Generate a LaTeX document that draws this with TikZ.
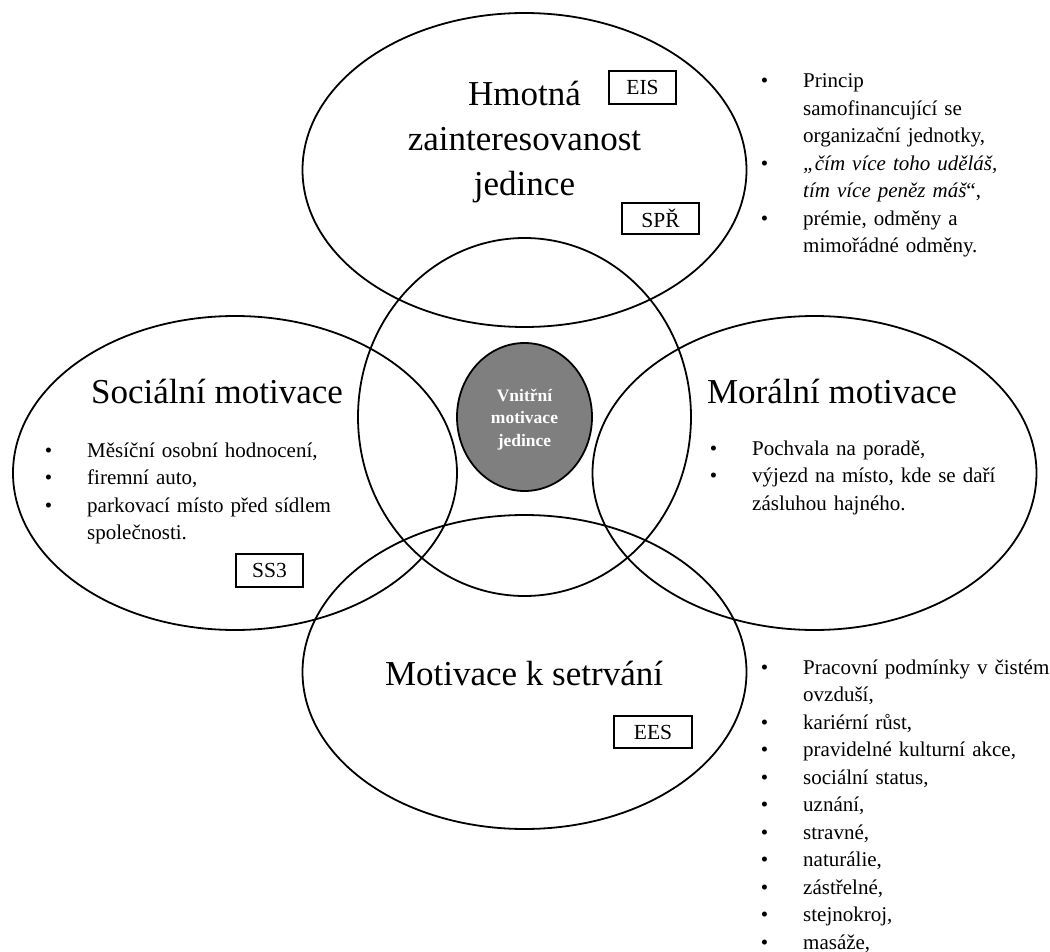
\documentclass[tikz,border=0pt]{standalone}
\usepackage{fontspec}
\setmainfont{Liberation Serif}
\usetikzlibrary{shapes.geometric}
\definecolor{coregray}{RGB}{127,127,127}
\newcommand\itembullet{\leavevmode\llap{\textbullet\hspace{35pt}}}
\begin{document}
\begin{tikzpicture}[x=1pt,y=-1pt,
  areaoval/.style={ellipse, draw, line width=1.8pt, minimum width=444pt, minimum height=314pt, inner sep=0pt},
  titletext/.style={inner sep=0pt, anchor=base, align=center, font=\fontsize{35}{45}\selectfont},
  tagbox/.style={draw, line width=1.7pt, inner sep=0pt, font=\fontsize{21.5}{25}\selectfont},
  bullets/.style={inner sep=0pt, anchor=base west, align=left, font=\fontsize{21}{27.5}\selectfont},
]
\useasboundingbox (0,0) rectangle (1050,952);

% four outer areas and the inner circle
\node[areaoval] (hmotna) at (524.5,170) {};
\node[areaoval] (socialni) at (235,473) {};
\node[areaoval] (moralni) at (814.5,473) {};
\node[areaoval] (setrvani) at (524.5,672) {};
\node[ellipse, draw, line width=1.8pt, minimum width=333pt, minimum height=358pt, inner sep=0pt] (inner) at (524.5,417) {};

% core
\node[ellipse, draw, fill=coregray, line width=1.8pt, minimum width=135pt, minimum height=148pt, inner sep=0pt] (core) at (524.5,417) {};
\node[inner sep=0pt, anchor=base, text width=120pt, align=center, text=white,
      font=\bfseries\fontsize{17.5}{22.5}\selectfont] (coretext) at (524.5,401) {Vnitřní\\motivace\\jedince};

% titles
\node[titletext, text width=320pt] (thmotna) at (524.5,106) {Hmotná\\zainteresovanost\\jedince};
\node[titletext] (tsocialni) at (217,403) {Sociální motivace};
\node[titletext] (tmoralni) at (832,403) {Morální motivace};
\node[titletext] (tsetrvani) at (524,685) {Motivace k setrvání};

% tags
\node[tagbox, minimum width=67pt, minimum height=33pt] (eis) at (642.5,87.5) {EIS};
\node[tagbox, minimum width=77pt, minimum height=31pt] (spr) at (660.5,218.5) {SPŘ};
\node[tagbox, minimum width=67pt, minimum height=33pt] (ss3) at (269.5,570.5) {SS3};
\node[tagbox, minimum width=78pt, minimum height=32pt] (ees) at (653,732) {EES};

% lists
\node[bullets, text width=245pt] (lhmotna) at (803,88) {%
\itembullet Princip\\
samofinancující se\\
organizační jednotky,\\
\itembullet{\itshape „čím více toho uděláš,}\\
{\itshape tím více peněz máš}“,\\
\itembullet prémie, odměny a\\
mimořádné odměny.};

\node[bullets, text width=260pt] (lsocialni) at (87,457) {%
\itembullet Měsíční osobní hodnocení,\\
\itembullet firemní auto,\\
\itembullet parkovací místo před sídlem\\
společnosti.};

\node[bullets, text width=260pt] (lmoralni) at (752,455) {%
\itembullet Pochvala na poradě,\\
\itembullet výjezd na místo, kde se daří\\
zásluhou hajného.};

\node[bullets, text width=260pt] (lsetrvani) at (803,674) {%
\itembullet Pracovní podmínky v čistém\\
ovzduší,\\
\itembullet kariérní růst,\\
\itembullet pravidelné kulturní akce,\\
\itembullet sociální status,\\
\itembullet uznání,\\
\itembullet stravné,\\
\itembullet naturálie,\\
\itembullet zástřelné,\\
\itembullet stejnokroj,\\
\itembullet masáže,};
\end{tikzpicture}
\end{document}
